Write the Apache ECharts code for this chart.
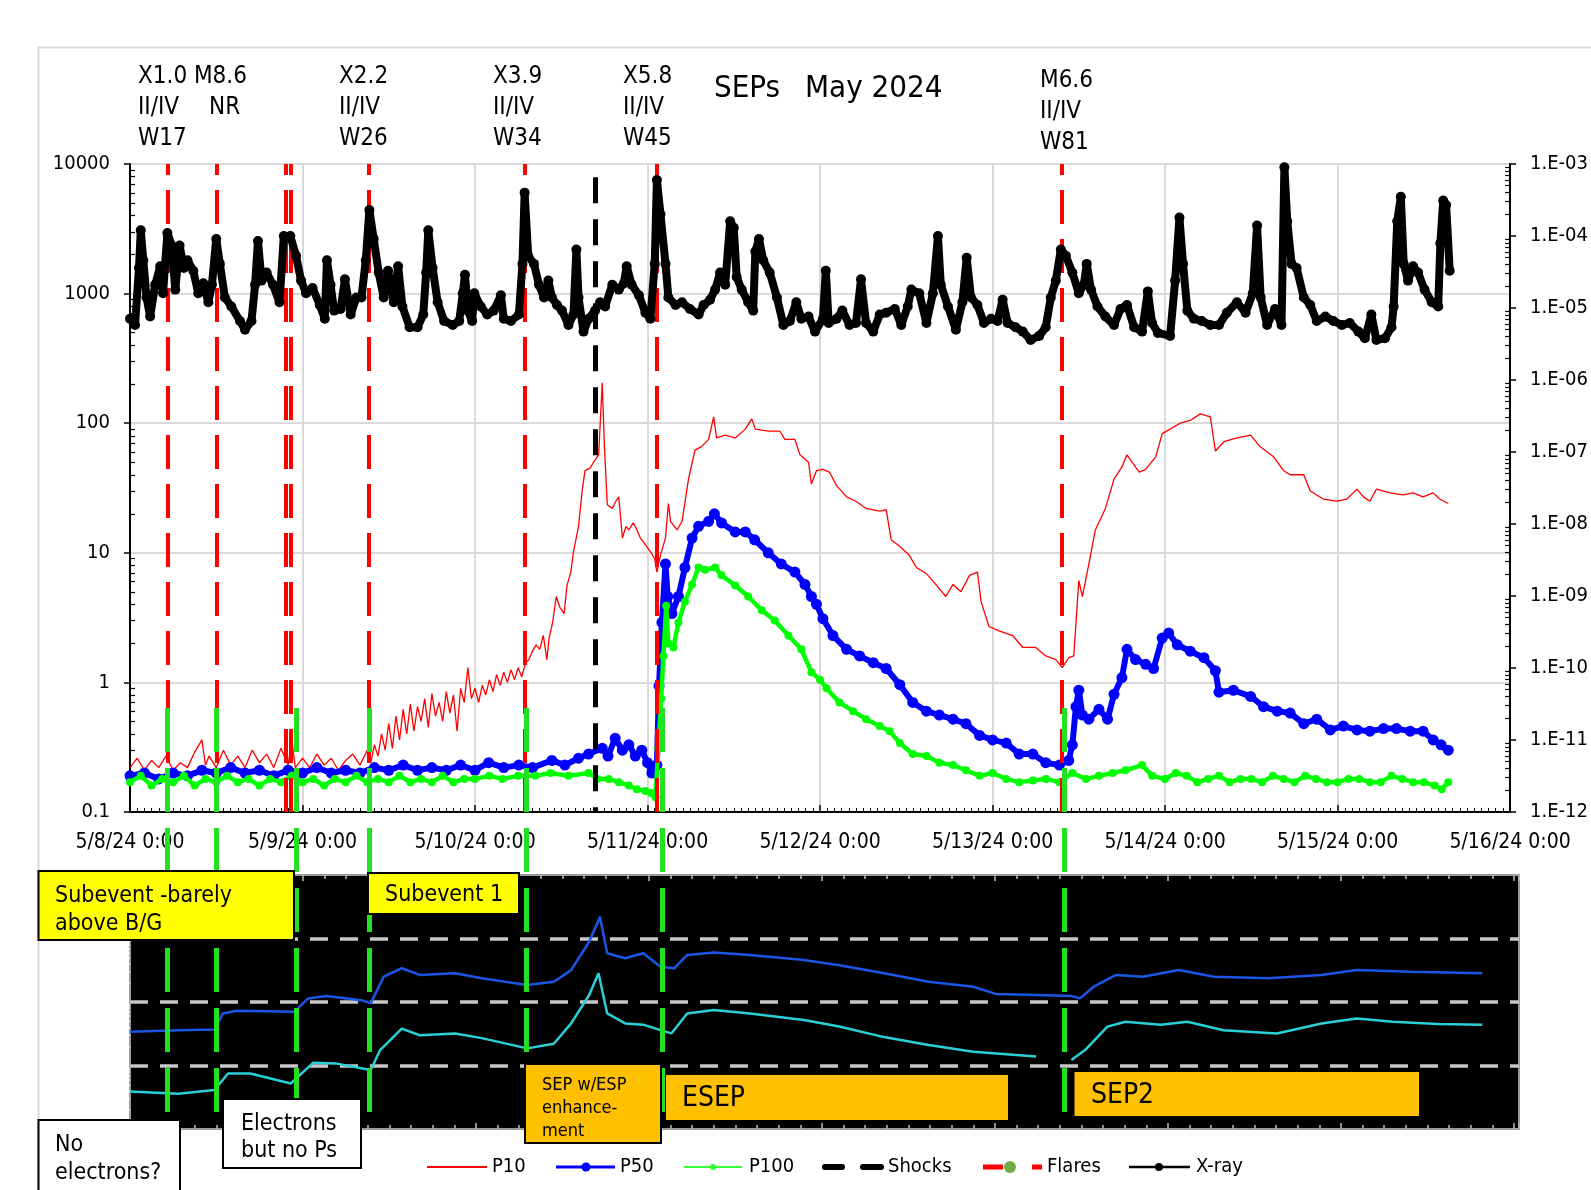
<!DOCTYPE html>
<html><head><meta charset="utf-8">
<script src="https://cdn.jsdelivr.net/npm/echarts@6/dist/echarts.min.js"></script>
<style>html,body{margin:0;padding:0;background:#fff;overflow:hidden}#c{width:1591px;height:1190px}</style>
</head><body><div id="c"></div><script>
const FONT = "'DejaVu Sans Condensed','DejaVu Sans',sans-serif";

// ---- tick labels ----
const xTickLabels = ['5/8/24 0:00','5/9/24 0:00','5/10/24 0:00','5/11/24 0:00','5/12/24 0:00','5/13/24 0:00','5/14/24 0:00','5/15/24 0:00','5/16/24 0:00'];
const leftTickLabels = ['0.1','1','10','100','1000','10000'];
const rightTickLabels = ['1.E-12','1.E-11','1.E-10','1.E-09','1.E-08','1.E-07','1.E-06','1.E-05','1.E-04','1.E-03'];

// ---- event markers (hours since 5/8/24 0:00) ----
const flareHours = [5.2, 12.0, 21.6, 22.3, 33.2, 54.9, 73.3, 129.6];
const shockHours = [64.7];
const greenHours = [5.2, 12.0, 23.0, 33.2, 55.0, 73.8, 129.6];

// ---- proton fluxes [hour, pfu] ----
const p10 = [[0,0.22],[1,0.26],[2,0.21],[3,0.25],[4,0.22],[5,0.27],[6,0.21],[7,0.24],[8,0.22],[9,0.29],[10,0.36],[10.5,0.23],[11,0.27],[12,0.22],[13,0.3],[14,0.23],[15,0.27],[16,0.22],[17,0.3],[18,0.24],[19,0.28],[20,0.22],[21,0.31],[22,0.23],[22.5,0.36],[23,0.22],[24,0.26],[25,0.22],[26,0.28],[27,0.23],[28,0.26],[29,0.21],[30,0.25],[31,0.28],[32,0.23],[33,0.3],[33.5,0.24],[34,0.33],[34.5,0.27],[35,0.4],[35.5,0.3],[36,0.48],[36.5,0.31],[37,0.55],[37.5,0.36],[38,0.62],[38.5,0.4],[39,0.68],[39.5,0.42],[40,0.65],[40.5,0.5],[41,0.75],[41.5,0.45],[42,0.82],[42.5,0.55],[43,0.7],[43.5,0.5],[44,0.85],[44.5,0.58],[45,0.8],[45.5,0.42],[46,0.9],[46.5,0.7],[47,1.3],[47.5,0.75],[48,0.9],[48.5,0.7],[49,0.95],[49.5,0.8],[50,1.05],[50.5,0.85],[51,1.15],[51.5,0.95],[52,1.2],[52.5,1.0],[53,1.25],[53.5,1.05],[54,1.3],[54.5,1.1],[55,1.4],[55.5,1.5],[56,1.75],[56.5,1.95],[57,1.8],[57.5,2.3],[58,1.5],[58.3,2.2],[58.8,2.9],[59.3,4.6],[59.8,3.8],[60.4,3.4],[60.8,5.6],[61.3,7.0],[61.7,10.2],[62.4,16],[62.9,30],[63.3,43],[64.0,45],[64.5,50],[65.2,57],[65.7,205],[66.0,66],[66.4,23.5],[67.1,22],[67.6,25],[68.0,27],[68.5,13],[69.0,16],[69.4,15],[70.0,17],[70.3,16],[71.0,13],[71.5,12],[72.4,10.2],[73.0,9],[73.3,7.1],[73.8,9.6],[74.5,13],[74.9,24],[75.2,17.5],[76.1,15],[76.8,17.5],[77.7,37],[78.6,62],[79.5,66],[80.5,75],[81.2,112],[81.6,77],[82.8,81],[84.2,77],[85.6,90],[86.5,108],[87.0,90],[88.8,87],[90.4,87],[91.1,75],[92.5,75],[93.2,57],[94.4,50],[94.8,34],[95.5,43],[96.4,44],[97.3,42],[98.3,33],[99.7,27],[101.0,25],[102.4,22],[104.3,21],[105.2,21.5],[105.9,12.6],[107.1,11.2],[108.4,9.6],[109.4,7.7],[110.8,6.9],[112.1,5.7],[113.5,4.6],[114.5,5.7],[115.6,5.0],[116.8,6.7],[117.9,7.1],[118.4,4.2],[119.5,2.7],[120.9,2.5],[122.8,2.3],[124.2,1.86],[126.0,1.86],[127.4,1.6],[128.8,1.5],[129.7,1.3],[130.6,1.55],[131.3,1.6],[132.0,6.1],[132.5,4.6],[133.4,8.2],[134.3,15],[135.7,22],[136.9,37],[138.0,46],[138.7,57],[139.4,50],[140.4,42],[141.3,44],[142.7,55],[143.6,83],[144.7,90],[146.1,100],[147.5,105],[148.9,118],[150.3,112],[151.0,61],[152.2,72],[154.0,77],[155.9,81],[157.2,66],[159.1,55],[160.5,43],[161.4,40],[163.3,40],[164.2,30],[166.0,26],[167.9,25],[169.3,26],[170.7,31],[171.6,27],[172.5,25],[173.4,31],[175.3,29],[177.1,28],[178.5,29],[179.9,27],[181.3,29],[182.2,26],[183.4,24]];

const p50 = [[0,0.19],[2,0.2],[4,0.18],[6,0.2],[8,0.19],[10,0.21],[12,0.2],[14,0.22],[16,0.2],[18,0.21],[20,0.19],[22,0.21],[24,0.2],[26,0.22],[28,0.2],[30,0.21],[32,0.2],[34,0.22],[36,0.21],[38,0.23],[40,0.21],[42,0.22],[44,0.21],[46,0.23],[48,0.21],[49.9,0.24],[52,0.22],[54.1,0.23],[56,0.22],[58.7,0.25],[60.5,0.23],[62.4,0.26],[63.8,0.28],[65.7,0.31],[66.5,0.27],[67.5,0.37],[68.5,0.3],[69.4,0.33],[70.3,0.27],[71.2,0.3],[72,0.24],[72.6,0.2],[73.3,0.23],[73.6,0.94],[74,2.9],[74.5,8.2],[74.8,4.6],[75.4,3.4],[76.3,4.6],[77.2,7.7],[78.2,13],[79.1,16],[80.5,17.5],[81.3,20],[82.3,17],[84.2,14.5],[85.6,14.5],[86.9,12.6],[88.8,10],[90.6,8.2],[92.5,7.1],[93.9,5.7],[94.8,4.6],[95.5,4.0],[96.4,3.1],[97.8,2.3],[99.7,1.8],[101.5,1.6],[103.4,1.42],[105.2,1.28],[107.1,0.96],[108.9,0.7],[110.8,0.6],[112.6,0.56],[114.5,0.52],[116.3,0.48],[118.2,0.39],[120,0.36],[121.9,0.34],[123.7,0.28],[125.6,0.28],[127.4,0.24],[129.3,0.23],[130.6,0.25],[131.1,0.33],[131.6,0.65],[132,0.87],[132.5,0.56],[133.4,0.52],[134.8,0.62],[136,0.52],[136.9,0.81],[138,1.09],[138.7,1.8],[139.9,1.5],[141.3,1.38],[142.4,1.28],[143.6,2.2],[144.5,2.4],[145.7,1.95],[147.5,1.74],[149.4,1.55],[151,1.23],[151.5,0.84],[153.5,0.87],[155.9,0.78],[157.7,0.65],[159.6,0.6],[161.4,0.58],[163.3,0.48],[165.1,0.52],[167,0.43],[168.8,0.46],[170.7,0.43],[172.5,0.42],[174.4,0.44],[176.2,0.44],[178.1,0.42],[179.9,0.42],[181.3,0.36],[182.4,0.33],[183.4,0.3]];

const p100 = [[0,0.17],[1.5,0.19],[3,0.16],[4.5,0.18],[6,0.17],[7.5,0.19],[9,0.16],[10.5,0.18],[12,0.17],[13.5,0.19],[15,0.17],[16.5,0.18],[18,0.16],[19.5,0.18],[21,0.17],[22.5,0.19],[24,0.17],[25.5,0.18],[27,0.16],[28.5,0.18],[30,0.17],[31.5,0.19],[33,0.17],[34.5,0.18],[36,0.17],[37.5,0.19],[39,0.17],[40.5,0.18],[42,0.17],[43.5,0.19],[45,0.17],[46.5,0.18],[48,0.18],[50,0.19],[51.8,0.18],[54,0.19],[56.4,0.19],[58.5,0.2],[61,0.19],[63.8,0.2],[65,0.18],[66.6,0.18],[68,0.17],[69.4,0.16],[70.5,0.15],[71.7,0.145],[72.5,0.14],[73.1,0.13],[73.5,0.31],[73.9,0.75],[74.2,1.6],[74.6,3.9],[74.9,2.0],[75.6,1.86],[76.3,2.9],[77.2,4.2],[78.2,5.7],[79.1,7.7],[80,7.4],[81.4,7.7],[82.3,6.7],[84.2,5.6],[86,4.6],[87.9,3.6],[89.7,3.0],[91.6,2.3],[93.4,1.8],[94.8,1.2],[96,1.05],[96.9,0.9],[98.7,0.7],[100.6,0.6],[102.4,0.52],[104.3,0.46],[105.7,0.42],[107.1,0.34],[108.9,0.28],[110.8,0.27],[112.6,0.24],[114.5,0.23],[116.3,0.21],[118.2,0.19],[120,0.2],[121.9,0.18],[123.7,0.17],[125.6,0.175],[127.4,0.18],[129.3,0.17],[131.1,0.2],[133,0.18],[134.8,0.19],[136.7,0.2],[138.5,0.21],[140.8,0.23],[142.2,0.19],[144,0.18],[145.5,0.2],[147,0.19],[148.5,0.17],[150,0.18],[151.5,0.19],[153,0.17],[154.5,0.18],[156,0.18],[157.5,0.17],[159,0.19],[160.5,0.18],[162,0.17],[163.5,0.19],[165,0.18],[166.5,0.17],[168,0.17],[169.5,0.18],[171,0.18],[172.5,0.17],[174,0.17],[175.5,0.19],[177,0.18],[178.5,0.17],[180,0.17],[181.5,0.16],[182.5,0.15],[183.4,0.17]];

// ---- GOES X-ray [hour, W/m^2] ----
const xray = [[0,7.1e-6],[0.7,5.8e-6],[1.25,3.6e-5],[1.5,1.2e-4],[1.85,4.6e-5],[2.3,1.4e-5],[2.8,7.6e-6],[3.5,2.1e-5],[4.2,3.8e-5],[4.6,1.6e-5],[5.2,1.1e-4],[5.8,7.4e-5],[6.3,1.8e-5],[6.9,7.4e-5],[7.5,3.6e-5],[8.0,4.6e-5],[8.8,3.3e-5],[9.5,1.6e-5],[10.2,2.2e-5],[10.9,1.2e-5],[11.4,2.1e-5],[12.0,9.1e-5],[12.5,4.1e-5],[13.2,1.4e-5],[14.1,1.05e-5],[15.3,6.6e-6],[16.0,5.0e-6],[16.9,6.6e-6],[17.4,2.1e-5],[17.8,8.5e-5],[18.3,2.4e-5],[19.0,3.1e-5],[19.9,2.1e-5],[20.8,1.2e-5],[21.4,1.0e-4],[22.3,1.0e-4],[23.1,5.3e-5],[23.8,2.4e-5],[24.5,1.6e-5],[25.4,1.9e-5],[26.4,1.1e-5],[27.1,7.1e-6],[27.4,4.6e-5],[27.9,2.1e-5],[28.4,9.2e-6],[29.3,9.7e-6],[29.9,2.5e-5],[30.7,8.1e-6],[31.5,1.4e-5],[32.2,1.4e-5],[32.8,4.6e-5],[33.3,2.3e-4],[33.9,9.1e-5],[34.6,3.1e-5],[35.3,1.4e-5],[35.9,3.3e-5],[36.7,1.2e-5],[37.3,3.8e-5],[37.9,1.05e-5],[38.9,5.4e-6],[40.0,5.4e-6],[40.8,8.1e-6],[41.2,3.1e-5],[41.5,1.2e-4],[42.1,3.6e-5],[42.8,1.2e-5],[43.7,6.6e-6],[44.9,5.8e-6],[45.8,6.6e-6],[46.3,1.6e-5],[46.6,2.9e-5],[47.0,9.2e-6],[47.6,6.6e-6],[47.9,1.6e-5],[48.8,1.05e-5],[49.7,8.1e-6],[50.6,9.2e-6],[51.6,1.5e-5],[52.0,7.1e-6],[53.0,6.6e-6],[54.1,8.1e-6],[54.6,4.1e-5],[54.9,4.0e-4],[55.4,5.3e-5],[56.2,4.1e-5],[56.9,2.1e-5],[57.6,1.4e-5],[58.2,2.4e-5],[58.7,1.4e-5],[59.4,1.1e-5],[60.1,9.2e-6],[61.0,5.8e-6],[61.7,8.1e-6],[62.1,6.5e-5],[62.4,1.4e-5],[63.1,4.7e-6],[63.8,7.1e-6],[64.7,9.2e-6],[65.4,1.2e-5],[66.1,1.05e-5],[67.1,2.1e-5],[68.0,1.8e-5],[68.7,2.2e-5],[69.1,3.8e-5],[69.8,2.1e-5],[70.8,1.5e-5],[71.7,8.6e-6],[72.4,7.1e-6],[73.0,4.1e-5],[73.3,6.0e-4],[73.8,2.0e-4],[74.5,4.1e-5],[74.9,1.4e-5],[75.9,1.1e-5],[76.8,1.2e-5],[77.9,9.7e-6],[79.1,8.1e-6],[79.8,1.1e-5],[80.7,1.3e-5],[81.4,1.8e-5],[82.1,3.1e-5],[82.8,2.1e-5],[83.5,1.6e-4],[84.0,1.3e-4],[84.4,2.7e-5],[85.1,1.8e-5],[86.0,1.2e-5],[86.7,9.2e-6],[87.0,6.1e-5],[87.5,9.1e-5],[88.1,4.6e-5],[89.0,3.1e-5],[90.0,1.4e-5],[90.9,5.8e-6],[91.8,6.6e-6],[92.7,1.2e-5],[93.4,7.1e-6],[94.4,7.6e-6],[95.3,4.7e-6],[96.4,7.1e-6],[96.8,3.3e-5],[97.2,6.2e-6],[98.3,7.1e-6],[99.1,9.2e-6],[100.1,5.8e-6],[101.0,6.2e-6],[101.7,2.5e-5],[102.4,6.2e-6],[103.4,4.7e-6],[104.3,8.1e-6],[105.2,8.6e-6],[106.4,9.7e-6],[107.3,5.8e-6],[108.2,1.05e-5],[108.7,1.8e-5],[109.8,1.6e-5],[110.8,6.2e-6],[111.7,1.6e-5],[112.4,1.0e-4],[112.8,2.1e-5],[113.8,1.05e-5],[114.9,5.0e-6],[115.8,1.2e-5],[116.4,5.0e-5],[117.0,1.4e-5],[117.9,1.1e-5],[118.8,6.2e-6],[119.8,7.1e-6],[120.7,6.6e-6],[121.4,1.3e-5],[122.1,6.2e-6],[123.2,5.4e-6],[124.2,4.7e-6],[125.3,3.6e-6],[126.5,4.1e-6],[127.4,5.4e-6],[128.1,1.4e-5],[128.8,2.4e-5],[129.5,6.5e-5],[130.2,5.3e-5],[131.1,3.1e-5],[132.0,1.6e-5],[132.7,2.1e-5],[133.1,4.1e-5],[133.7,1.8e-5],[134.6,1.05e-5],[135.7,7.6e-6],[136.9,5.8e-6],[137.8,9.7e-6],[138.7,1.1e-5],[139.7,5.4e-6],[140.8,4.7e-6],[141.6,1.7e-5],[142.2,6.2e-6],[143.0,4.5e-6],[144.7,4.1e-6],[145.4,2.4e-5],[146.0,1.8e-4],[146.5,4.1e-5],[147.1,9.2e-6],[148.0,7.1e-6],[149.1,6.6e-6],[150.3,5.8e-6],[151.5,5.8e-6],[152.6,8.6e-6],[154.0,1.2e-5],[155.2,8.6e-6],[156.2,1.6e-5],[156.8,1.4e-4],[157.3,1.4e-5],[158.2,5.8e-6],[159.3,9.7e-6],[160.2,5.8e-6],[160.6,9.0e-4],[161.0,1.6e-4],[161.6,4.1e-5],[162.3,3.6e-5],[163.3,1.4e-5],[164.2,1.1e-5],[165.1,6.6e-6],[166.3,7.6e-6],[167.4,6.6e-6],[168.6,5.8e-6],[169.7,6.2e-6],[170.9,4.7e-6],[171.8,3.8e-6],[172.7,8.1e-6],[173.4,3.6e-6],[174.6,3.8e-6],[175.5,5.4e-6],[175.8,1.05e-5],[176.3,1.6e-4],[176.8,3.5e-4],[177.2,4.1e-5],[177.8,2.4e-5],[178.5,3.8e-5],[179.2,3.1e-5],[180.1,1.8e-5],[181.1,1.2e-5],[182.0,1.05e-5],[182.3,7.9e-5],[182.7,3.1e-4],[183.1,2.7e-4],[183.6,3.3e-5]];

// ---- electron panel (relative flux, log) [hour, value] ----
const elecBlue = [[0,34],[6.7,36],[11.7,37],[12.9,66],[14.8,73],[22.8,70],[24.7,114],[27.2,124],[32.1,107],[33.4,95],[35.2,250],[37.7,340],[40.2,267],[45.1,283],[48.8,236],[55.1,185],[58.8,209],[61.2,318],[63.7,890],[65.2,2200],[66.2,585],[68.7,490],[71.2,585],[73.6,360],[75.5,340],[77.3,550],[81.0,600],[86.0,550],[93.5,458],[98.4,380],[104.6,283],[110.8,209],[117.0,174],[120.1,134],[125.7,129],[130.6,124],[131.8,114],[133.7,174],[136.8,267],[140.5,250],[145.5,318],[150.4,250],[157.9,236],[165.3,267],[170.2,318],[177.7,300],[187.6,283]];
const elecCyan = [[0,3.9],[6.7,3.6],[11.7,4.1],[13.6,7.5],[16.7,7.5],[22.3,5.2],[25.4,11],[28.5,10.8],[33.4,8.5],[34.7,17.5],[37.7,38],[40.2,30],[45.1,32],[48.8,27],[55.1,18.6],[58.8,22],[61.2,46],[63.7,129],[65.0,283],[66.2,66],[68.7,46],[71.2,44],[73.6,36],[75.1,32],[77.3,66],[81.0,75],[86.0,66],[93.5,52],[98.4,41],[104.6,28],[110.8,21],[117.0,16.5],[125.7,13.8],[128,null],[130.6,12.2],[132.5,17.5],[135.6,41],[138.1,49],[143.0,44],[146.7,49],[151.7,36],[159.1,32],[165.3,46],[170.2,55],[175.2,49],[181.4,45],[187.6,44]];

// ---- minor log tick positions (axis decoration) ----
function logMinor(k0, k1){const a=[];for(let k=k0;k<=k1;k++){for(let m=2;m<=9;m++)a.push(m*Math.pow(10,k));}return a;}
const minorLeft = logMinor(-1,3);
const minorRight = logMinor(-12,-4);
const minorPanel = logMinor(0,3);

const chart = echarts.init(document.getElementById('c'), null, {renderer:'canvas', width:1591, height:1190});

const axisTxt = {fontFamily: FONT, fontSize: 20, color: '#000'};
const G = [];
function T(x,y,s,size,extra){G.push(Object.assign({type:'text', z:100, style:{x:x,y:y,text:s,font:size+'px '+FONT,fill:'#000',textAlign:'left',align:'left',textVerticalAlign:'middle',verticalAlign:'middle'}}, extra||{}));}
function R(x,y,w,h,fill,stroke,lw){G.push({type:'rect', z:99, shape:{x:x,y:y,width:w,height:h}, style:{fill:fill, stroke:stroke||null, lineWidth:lw||0}});}
function L(x1,y1,x2,y2,c,w,cap){G.push({type:'line', z:100, shape:{x1:x1,y1:y1,x2:x2,y2:y2}, style:{stroke:c, lineWidth:w, lineCap:cap||'butt'}});}
function C(cx,cy,r,c){G.push({type:'circle', z:101, shape:{cx:cx,cy:cy,r:r}, style:{fill:c}});}

// chart area frame
G.push({type:'rect', z:0, shape:{x:38.5,y:47.5,width:1600,height:1200}, style:{fill:null, stroke:'#d9d9d9', lineWidth:2}});

// flare annotations
const ann = [[138,['X1.0 M8.6','II/IV','W17'],0],[339,['X2.2','II/IV','W26'],0],[493,['X3.9','II/IV','W34'],0],[623,['X5.8','II/IV','W45'],0],[1040,['M6.6','II/IV','W81'],4]];
ann.forEach(a=>{a[1].forEach((s,i)=>T(a[0], 77 + a[2] + i*31, s, 24));});
T(209, 108, 'NR', 24);
T(714, 89, 'SEPs', 31);
T(805, 89, 'May 2024', 31);

// boxes
R(38.5,871,255.5,69,'#ffff00','#000',2); T(55,896,'Subevent -barely',23); T(55,924,'above B/G',23);
R(368,873,151,41,'#ffff00','#000',2); T(385,895,'Subevent 1',23);
R(38.5,1120,141.5,80,'#fff','#000',2); T(55,1145,'No',23); T(55,1173,'electrons?',23);
R(223,1099,138,69,'#fff','#000',2); T(241,1124,'Electrons',23); T(241,1151,'but no Ps',23);
R(525,1064,136,79,'#ffc000','#000',2); T(542,1085,'SEP w/ESP',18); T(542,1108,'enhance-',18); T(542,1131,'ment',18);
R(666,1075,342,45,'#ffc000'); T(682,1099,'ESEP',28);
R(1074.5,1072,344.5,44,'#ffc000'); T(1091,1096,'SEP2',28);

// legend
const LY = 1167;
L(427,LY,487,LY,'#ff0000',2); T(492,LY,'P10',20);
L(556,LY,615,LY,'#0000ff',3); C(586,LY,4.5,'#0000ff'); T(620,LY,'P50',20);
L(684,LY,742,LY,'#33ff33',2); C(713,LY,3,'#33ff33'); T(749,LY,'P100',20);
L(825,LY,842,LY,'#000',6,'round'); L(863,LY,881,LY,'#000',6,'round'); T(888,LY,'Shocks',20);
L(983,LY,1003,LY,'#ff0000',5); C(1010,LY,6,'#70ad47'); L(1032,LY,1042,LY,'#ff0000',5); T(1047,LY,'Flares',20);
L(1129,LY,1190,LY,'#000',2.5); C(1159,LY,4,'#000'); T(1196,LY,'X-ray',20);

const option = {
  animation: false,
  backgroundColor: '#fff',
  grid: [
    {left:130, top:164, width:1384, height:648},
    {left:130, top:875, width:1389, height:254, show:true, backgroundColor:'#000', borderColor:'#9a9a9a', borderWidth:2},
    {left:130, top:698, width:1384, height:414}
  ],
  xAxis: [
    {gridIndex:0, type:'value', min:0, max:192, interval:24,
     axisLine:{show:true, onZero:false, lineStyle:{color:'#000', width:2}},
     axisTick:{show:true, inside:true, length:7, lineStyle:{color:'#000', width:1.5}},
     minorTick:{show:true, splitNumber:24, length:4, lineStyle:{color:'#000', width:1}},
     axisLabel:{show:true, margin:20, fontFamily:FONT, fontSize:21, color:'#000', showMinLabel:true, showMaxLabel:true,
       formatter:v=>xTickLabels[Math.round(v/24)]},
     splitLine:{show:true, lineStyle:{color:'#d9d9d9', width:2}}},
    {gridIndex:1, type:'value', min:0, max:192.7, interval:24, position:'bottom',
     axisLine:{show:false}, axisLabel:{show:false}, splitLine:{show:false},
     axisTick:{show:true, inside:true, length:6, lineStyle:{color:'#bbb', width:1.5}},
     minorTick:{show:true, splitNumber:8, length:4, lineStyle:{color:'#bbb', width:1.5}}},
    {gridIndex:1, type:'value', min:0, max:192.7, interval:24, position:'top',
     axisLine:{show:false}, axisLabel:{show:false}, splitLine:{show:false},
     axisTick:{show:true, inside:true, length:6, lineStyle:{color:'#bbb', width:1.5}},
     minorTick:{show:true, splitNumber:8, length:4, lineStyle:{color:'#bbb', width:1.5}}},
    {gridIndex:2, type:'value', min:0, max:192, show:false}
  ],
  yAxis: [
    {gridIndex:0, type:'log', logBase:10, min:0.1, max:10000, splitNumber:5, position:'left',
     axisLine:{show:true, lineStyle:{color:'#000', width:2}},
     axisTick:{show:true, inside:false, length:6, lineStyle:{color:'#000', width:1.5}},
     axisLabel:Object.assign({margin:20, formatter:v=>leftTickLabels[Math.round(Math.log10(v))+1]}, axisTxt),
     splitLine:{show:true, lineStyle:{color:'#d9d9d9', width:2}}},
    {gridIndex:0, type:'log', logBase:10, min:1e-12, max:1e-3, splitNumber:9, position:'right', offset:0,
     axisLine:{show:true, lineStyle:{color:'#000', width:2}},
     axisTick:{show:true, inside:false, length:6, lineStyle:{color:'#000', width:1.5}},
     axisLabel:Object.assign({margin:20, formatter:v=>rightTickLabels[Math.round(Math.log10(v))+12]}, axisTxt),
     splitLine:{show:false}},
    {gridIndex:0, type:'log', logBase:10, min:0.1, max:10000, position:'left', offset:0,
     axisLine:{show:false}, axisLabel:{show:false}, splitLine:{show:false},
     axisTick:{show:true, inside:true, length:5, customValues:minorLeft, lineStyle:{color:'#000', width:1.2}}},
    {gridIndex:0, type:'log', logBase:10, min:1e-12, max:1e-3, position:'right', offset:0,
     axisLine:{show:false}, axisLabel:{show:false}, splitLine:{show:false},
     axisTick:{show:true, inside:true, length:5, customValues:minorRight, lineStyle:{color:'#000', width:1.2}}},
    {gridIndex:1, type:'log', logBase:10, min:1, max:10000, position:'left',
     axisLine:{show:false}, axisLabel:{show:false}, axisTick:{show:false},
     splitLine:{show:true, showMinLine:false, showMaxLine:false, lineStyle:{color:'#c8c8c8', width:3.5, type:[18,12]}}},
    {gridIndex:1, type:'log', logBase:10, min:1, max:10000, position:'right',
     axisLine:{show:false}, axisLabel:{show:false}, splitLine:{show:false},
     axisTick:{show:true, inside:true, length:15, customValues:minorPanel, lineStyle:{color:'#fff', width:1.5}}},
    {gridIndex:2, type:'value', min:0, max:1, show:false}
  ],
  series: [
    {name:'Flares', type:'line', xAxisIndex:0, yAxisIndex:0, data:[], z:1, silent:true,
     markLine:{silent:true, symbol:['none','none'], label:{show:false}, animation:false,
       lineStyle:{color:'#ff0000', width:4, type:[34,15]},
       data: flareHours.map(h=>({xAxis:h}))}},
    {name:'P10', type:'line', xAxisIndex:0, yAxisIndex:0, data:p10, showSymbol:false, z:2,
     lineStyle:{color:'#ff0000', width:1.3}},
    {name:'P50', type:'line', xAxisIndex:0, yAxisIndex:0, data:p50, symbol:'circle', symbolSize:11, showAllSymbol:true, z:3,
     itemStyle:{color:'#0000ff'}, lineStyle:{color:'#0000ff', width:6}},
    {name:'P100', type:'line', xAxisIndex:0, yAxisIndex:0, data:p100, symbol:'circle', symbolSize:8, showAllSymbol:true, z:4,
     itemStyle:{color:'#00ff00'}, lineStyle:{color:'#00ff00', width:4.5}},
    {name:'X-ray', type:'line', xAxisIndex:0, yAxisIndex:1, data:xray, symbol:'circle', symbolSize:10, showAllSymbol:true, z:5,
     itemStyle:{color:'#000'}, lineStyle:{color:'#000', width:8, join:'round'}},
    {name:'Shocks', type:'line', xAxisIndex:0, yAxisIndex:0, data:[], z:6, silent:true,
     markLine:{silent:true, symbol:['none','none'], label:{show:false}, animation:false,
       lineStyle:{color:'#000', width:5, type:[26,16]},
       data: shockHours.map(h=>[{coord:[h,7900]},{coord:[h,0.1]}])}},
    {name:'e-blue', type:'line', xAxisIndex:1, yAxisIndex:4, data:elecBlue, showSymbol:false, z:3,
     lineStyle:{color:'#1c56e6', width:2.5}},
    {name:'e-cyan', type:'line', xAxisIndex:1, yAxisIndex:4, data:elecCyan, showSymbol:false, connectNulls:false, z:3,
     lineStyle:{color:'#29d0d6', width:2.5}},
    {name:'markers', type:'line', xAxisIndex:3, yAxisIndex:6, data:[], z:10, silent:true,
     markLine:{silent:true, symbol:['none','none'], label:{show:false}, animation:false,
       lineStyle:{color:'#22e022', width:5, type:[44,16]},
       data: greenHours.map(h=>({xAxis:h}))}}
  ],
  graphic: G
};
chart.setOption(option);
</script></body></html>
